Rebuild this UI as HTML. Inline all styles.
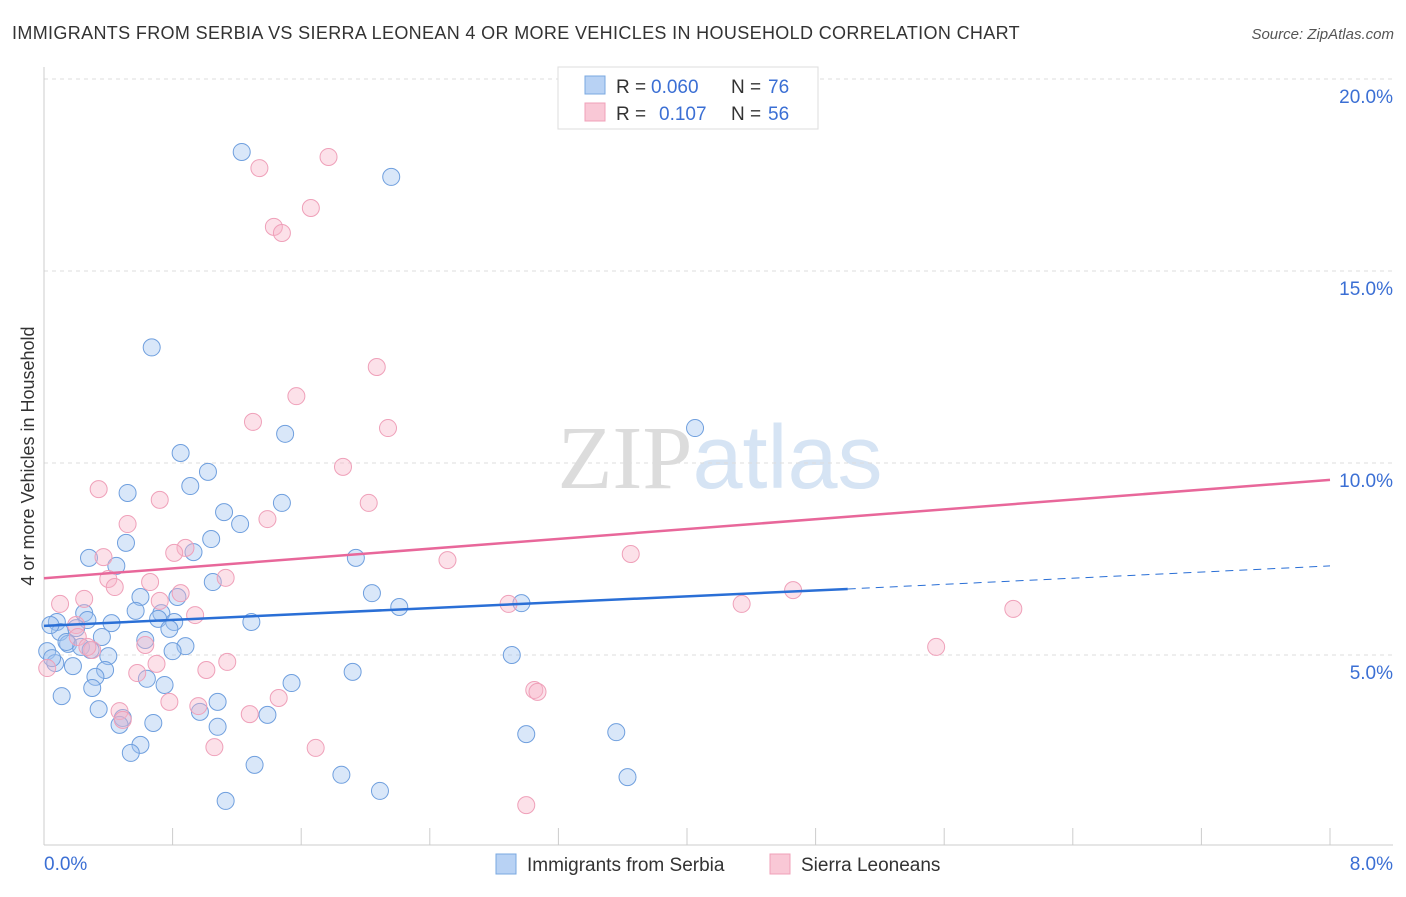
<!DOCTYPE html>
<html><head><meta charset="utf-8">
<style>
body{margin:0;background:#fff;font-family:"Liberation Sans",sans-serif;}
svg text{font-family:"Liberation Sans",sans-serif;}
</style></head>
<body>
<svg id="chart" width="1406" height="892" xmlns="http://www.w3.org/2000/svg">
<text x="12" y="39" font-size="18" letter-spacing="0.35" fill="#333">IMMIGRANTS FROM SERBIA VS SIERRA LEONEAN 4 OR MORE VEHICLES IN HOUSEHOLD CORRELATION CHART</text>
<text x="1394" y="39" font-size="15" fill="#555" font-style="italic" text-anchor="end">Source: ZipAtlas.com</text>
<text transform="translate(34,456) rotate(-90)" font-size="18" fill="#333" text-anchor="middle">4 or more Vehicles in Household</text>
<text x="720" y="488" font-size="90" text-anchor="middle" fill="#e4e4e4"><tspan font-family="Liberation Serif" fill="#dcdcdc">ZIP</tspan><tspan fill="#d6e4f4">atlas</tspan></text>
<g id="grid"></g><g id="axes"></g><g id="pts"></g><g id="trend"></g>
<g>
<rect x="558" y="67" width="260" height="62" fill="#fff" stroke="#ddd"/>
<rect x="585" y="76" width="20" height="18" fill="#b8d2f4" stroke="#7aa8e0"/>
<text x="616" y="93" font-size="19" fill="#333">R =</text>
<text x="651" y="93" font-size="19" fill="#3b6fd4">0.060</text>
<text x="731" y="93" font-size="19" fill="#333">N =</text>
<text x="768" y="93" font-size="19" fill="#3b6fd4">76</text>
<rect x="585" y="103" width="20" height="18" fill="#f9c8d6" stroke="#f0a0b8"/>
<text x="616" y="120" font-size="19" fill="#333">R =</text>
<text x="659" y="120" font-size="19" fill="#3b6fd4">0.107</text>
<text x="731" y="120" font-size="19" fill="#333">N =</text>
<text x="768" y="120" font-size="19" fill="#3b6fd4">56</text>
</g>
<g>
<rect x="496" y="854" width="20" height="20" fill="#b8d2f4" stroke="#7aa8e0"/>
<text x="527" y="871" font-size="19" fill="#333">Immigrants from Serbia</text>
<rect x="770" y="854" width="20" height="20" fill="#f9c8d6" stroke="#f0a0b8"/>
<text x="801" y="871" font-size="19" fill="#333">Sierra Leoneans</text>
</g>
</svg>
<script>
const yTicks=[5,10,15,20];
const yTickLabels=["5.0%","10.0%","15.0%","20.0%"];
const xTicks=[0,0.8,1.6,2.4,3.2,4,4.8,5.6,6.4,7.2,8];
const serbiaX=[1.23,2.16,0.67,0.85,1.50,4.05,1.02,0.52,0.91,1.48,1.12,1.22,0.51,1.04,0.28,0.93,1.94,0.45,1.05,0.60,0.83,2.04,2.21,2.97,0.25,0.57,0.73,0.08,0.27,0.42,0.71,1.29,0.81,0.78,0.20,0.10,0.36,0.63,0.15,0.88,0.80,0.23,0.40,0.18,0.38,0.02,0.07,2.91,1.92,0.32,1.54,0.64,0.75,0.30,0.11,1.08,0.34,0.97,0.49,0.68,0.47,1.39,1.08,3.00,3.56,0.60,0.54,1.31,1.85,3.63,2.09,1.13,0.04,0.05,0.14,0.29];
const serbiaY=[18.1,17.45,13.01,10.26,10.76,10.91,9.77,9.22,9.40,8.96,8.72,8.41,7.92,8.02,7.53,7.68,7.53,7.32,6.90,6.51,6.51,6.61,6.25,6.35,6.09,6.15,6.09,5.86,5.91,5.83,5.94,5.86,5.86,5.68,5.70,5.60,5.47,5.39,5.29,5.23,5.10,5.21,4.97,4.71,4.61,5.10,4.79,5.00,4.56,4.43,4.27,4.38,4.22,4.14,3.93,3.78,3.59,3.52,3.36,3.23,3.18,3.44,3.13,2.94,2.99,2.66,2.45,2.14,1.88,1.82,1.46,1.20,5.78,4.92,5.34,5.13];
const sierraX=[3.71,1.77,1.34,1.66,1.43,1.48,2.07,1.57,2.14,1.30,1.86,0.34,0.72,2.02,1.39,0.52,0.37,3.65,0.88,2.51,0.81,1.13,0.40,0.66,0.44,0.85,0.25,0.72,0.10,4.66,4.34,6.03,2.89,0.94,0.20,0.21,0.63,0.30,5.55,0.70,1.14,1.01,0.58,0.02,3.05,3.07,0.78,0.96,0.47,1.46,1.28,0.49,1.69,1.06,3.00,0.27];
const sierraY=[19.06,17.97,17.68,16.64,16.15,15.99,12.50,11.74,10.91,11.07,9.90,9.32,9.04,8.96,8.54,8.41,7.55,7.63,7.79,7.47,7.66,7.01,6.98,6.90,6.77,6.61,6.46,6.41,6.33,6.69,6.33,6.20,6.33,6.04,5.78,5.47,5.26,5.13,5.21,4.77,4.82,4.61,4.53,4.66,4.09,4.04,3.78,3.67,3.54,3.88,3.46,3.31,2.58,2.60,1.09,5.21];
const serbiaTrend=[5.76,6.72,7.32]; // at x=0,5,8
const sierraTrend=[7.0,9.56];      // at x=0,8
const X=v=>44+v/8*1286, Y=v=>847-v*38.4;
const NS="http://www.w3.org/2000/svg";
function mk(t,a,p){const e=document.createElementNS(NS,t);for(const k in a)e.setAttribute(k,a[k]);p.appendChild(e);return e;}
const grid=document.getElementById('grid'),axes=document.getElementById('axes'),pts=document.getElementById('pts'),tr=document.getElementById('trend');
yTicks.forEach((v,i)=>{
 const l=mk('line',{x1:44,x2:1393,y1:Y(v),y2:Y(v),stroke:'#ddd','stroke-dasharray':'4,4'},grid);
 
 
 const t=mk('text',{x:1393,y:Y(v)+24,'font-size':19,fill:'#3b6fd4','text-anchor':'end'},grid);t.textContent=yTickLabels[i];
 
 
});
const ax=mk('line',{x1:44,x2:1393,y1:845,y2:845,stroke:'#ccc'},axes);


const ay=mk('line',{x1:44,x2:44,y1:67,y2:845,stroke:'#ccc'},axes);


xTicks.forEach(v=>{const t=mk('line',{x1:X(v),x2:X(v),y1:828,y2:845,stroke:'#ccc'},axes);
 
 });
const xl0=mk('text',{x:44,y:870,'font-size':19,fill:'#3b6fd4'},axes);xl0.textContent='0.0%';


const xl1=mk('text',{x:1393,y:870,'font-size':19,fill:'#3b6fd4','text-anchor':'end'},axes);xl1.textContent='8.0%';


serbiaX.forEach((x,i)=>{const c=mk('circle',{cx:X(x),cy:Y(serbiaY[i]),r:8.5,fill:'rgba(160,196,240,0.4)',stroke:'#6f9fde','stroke-width':1},pts);
 
 });
sierraX.forEach((x,i)=>{const c=mk('circle',{cx:X(x),cy:Y(sierraY[i]),r:8.5,fill:'rgba(247,180,200,0.4)',stroke:'#efa0b9','stroke-width':1},pts);
 
 });
const b1=mk('line',{x1:X(0),y1:Y(serbiaTrend[0]),x2:X(5),y2:Y(serbiaTrend[1]),stroke:'#2a6fd6','stroke-width':2.5},tr);


const b2=mk('line',{x1:X(5),y1:Y(serbiaTrend[1]),x2:X(8),y2:Y(serbiaTrend[2]),stroke:'#2a6fd6','stroke-width':1,'stroke-dasharray':'8,6'},tr);


const p1=mk('line',{x1:X(0),y1:Y(sierraTrend[0]),x2:X(8),y2:Y(sierraTrend[1]),stroke:'#e8679a','stroke-width':2.5},tr);


</script>
</body></html>
